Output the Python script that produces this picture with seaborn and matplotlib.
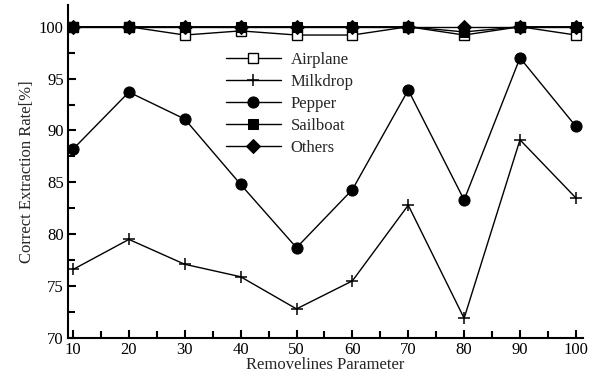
import matplotlib
matplotlib.use("Agg")
import matplotlib.pyplot as plt
import seaborn as sns
import pandas as pd
from matplotlib.ticker import MultipleLocator

params = [10, 20, 30, 40, 50, 60, 70, 80, 90, 100]
airplane = [100, 100, 99.2, 99.6, 99.2, 99.2, 100, 99.2, 100, 99.2]
milkdrop = [76.6, 79.5, 77.1, 75.9, 72.8, 75.5, 82.8, 71.9, 89.1, 83.5]
pepper = [88.2, 93.7, 91.1, 84.8, 78.7, 84.3, 93.9, 83.3, 97.0, 90.4]
sailboat = [100, 100, 100, 100, 100, 100, 100, 99.5, 100, 100]
others = [100, 100, 100, 100, 100, 100, 100, 100, 100, 100]

series = [
    ("Airplane", airplane, dict(marker="s", markerfacecolor="white", markeredgecolor="black", markersize=7, markeredgewidth=1.0)),
    ("Milkdrop", milkdrop, dict(marker="+", markersize=8, markeredgewidth=1.1, markeredgecolor="black")),
    ("Pepper", pepper, dict(marker="o", markerfacecolor="black", markeredgecolor="black", markersize=8)),
    ("Sailboat", sailboat, dict(marker="s", markerfacecolor="black", markeredgecolor="black", markersize=7)),
    ("Others", others, dict(marker="D", markerfacecolor="black", markeredgecolor="black", markersize=7.5)),
]

sns.set_theme(style="ticks")
plt.rcParams["font.family"] = ["Liberation Serif", "DejaVu Serif"]

fig = plt.figure(figsize=(5.99, 3.81), dpi=100)
ax = fig.add_axes([0.1135, 0.113, 0.86, 0.874])

for name, vals, style in series:
    df = pd.DataFrame({"x": params, "y": vals})
    sns.lineplot(data=df, x="x", y="y", ax=ax, color="black", linewidth=1.0,
                 label=name, **style)

ax.set_xlim(9.1, 101.3)
ax.set_ylim(70, 102.1)
ax.xaxis.set_major_locator(MultipleLocator(10))
ax.xaxis.set_minor_locator(MultipleLocator(5))
ax.yaxis.set_major_locator(MultipleLocator(5))
ax.yaxis.set_minor_locator(MultipleLocator(2.5))
ax.tick_params(which="both", direction="in", width=1.5, labelsize=12, colors="black", pad=3)
ax.tick_params(which="major", length=6)
ax.tick_params(which="minor", length=5)
for s in ["top", "right"]:
    ax.spines[s].set_visible(False)
for s in ["left", "bottom"]:
    ax.spines[s].set_linewidth(1.5)
    ax.spines[s].set_color("black")

ax.set_xlabel("Removelines Parameter", fontsize=12, labelpad=-1)
ax.set_ylabel("Correct Extraction Rate[%]", fontsize=12, labelpad=3)

leg = ax.legend(loc="upper left", bbox_to_anchor=(0.29, 0.885), frameon=False,
                fontsize=12, handlelength=3.3, handletextpad=0.6,
                labelspacing=0.37, borderpad=0)

fig.savefig("out.png", dpi=100)
